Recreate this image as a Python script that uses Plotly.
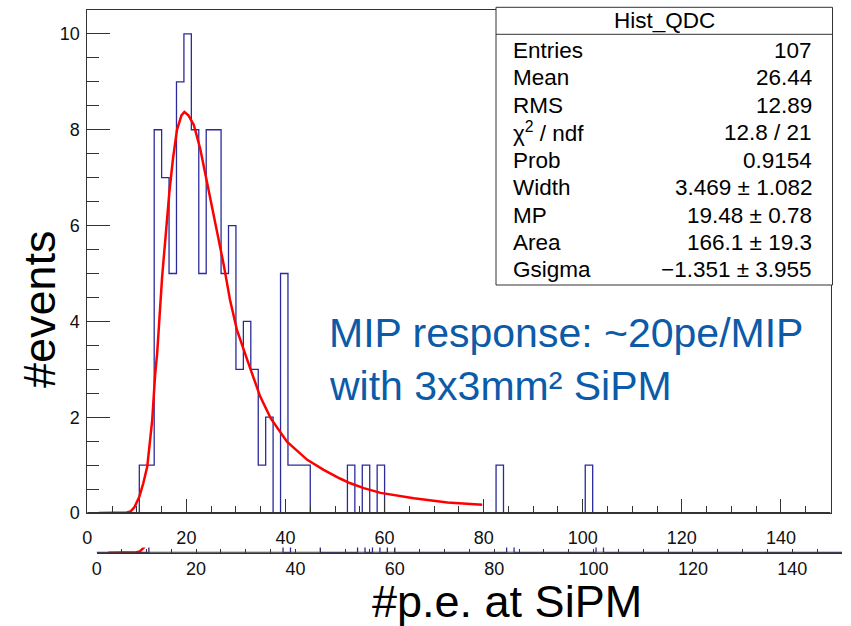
import numpy as np
import plotly.graph_objects as go

# ---------------- data ----------------
x_min, x_max, bin_width = 0.0, 150.0, 1.5
counts = [
    0, 0, 0, 0, 0, 0, 0, 1, 1, 8,
    7, 5, 9, 10, 8, 5, 8, 8, 5, 6,
    3, 4, 3, 1, 2, 0, 5, 1, 1, 1,
    0, 0, 0, 0, 0, 1, 0, 1, 0, 1,
    0, 0, 0, 0, 0, 0, 0, 0, 0, 0,
    0, 0, 0, 0, 0, 1, 0, 0, 0, 0,
    0, 0, 0, 0, 0, 0, 0, 1, 0, 0,
    0, 0, 0, 0, 0, 0, 0, 0, 0, 0,
    0, 0, 0, 0, 0, 0, 0, 0, 0, 0,
    0, 0, 0, 0, 0, 0, 0, 0, 0, 0,
]
fit_x = [2.3, 6.0, 8.0, 8.7, 9.5, 10.5, 11.3, 12.1, 13.1, 13.7, 14.1, 15.1, 15.8,
         16.6, 17.3, 18.1, 19.0, 19.6, 20.4, 21.5, 22.8, 24.2, 25.5, 26.9, 27.5,
         28.8, 30.2, 32.3, 34.9, 37.0, 40.3, 44.4, 47.7, 51.0, 53.1, 55.8, 59.2,
         65.9, 72.7, 79.7]
fit_y = [0.0, 0.0, 0.01, 0.03, 0.12, 0.34, 0.62, 0.97, 1.94, 2.9, 3.33, 4.93, 5.85,
         6.74, 7.4, 8.0, 8.3, 8.37, 8.3, 8.1, 7.6, 6.9, 6.26, 5.56, 5.2,
         4.45, 3.82, 3.19, 2.43, 1.98, 1.49, 1.11, 0.90, 0.72, 0.62, 0.52, 0.42,
         0.31, 0.22, 0.17]
x_ticks = [0, 20, 40, 60, 80, 100, 120, 140]
y_ticks = [0, 2, 4, 6, 8, 10]
stats_title = "Hist_QDC"
stat_names = ["Entries", "Mean", "RMS", "χ<sup>2</sup> / ndf", "Prob", "Width", "MP", "Area", "Gsigma"]
stat_values = ["107", "26.44", "12.89", "12.8 / 21", "0.9154", "3.469 ± 1.082",
               "19.48 ± 0.78", "166.1 ± 19.3", "−1.351 ± 3.955"]
note_lines = ["MIP response: ~20pe/MIP", "with 3x3mm² SiPM"]
x_title = "#p.e. at SiPM"
y_title = "#events"

# ---------------- figure ----------------
W, H = 851, 626
FONT = "Liberation Sans, Arial, Helvetica, sans-serif"
AX = "#333333"
HIST_C = "#2a2a9e"
RED = "#ff0000"


def px(x):
    return x / W


def py(y):
    return 1 - y / H


edges = np.arange(x_min, x_max + bin_width / 2, bin_width)
hx = list(edges[:-1]) + [edges[-1]]
hy = list(counts) + [counts[-1]]

fig = go.Figure()
for xa, ya in (("x", "y"), ("x2", "y2")):
    fig.add_trace(go.Scatter(x=hx, y=hy, mode="lines", line=dict(color=HIST_C, width=1.3, shape="hv"),
                             xaxis=xa, yaxis=ya, showlegend=False, hoverinfo="skip"))
    fig.add_trace(go.Scatter(x=fit_x, y=fit_y, mode="lines", line=dict(color=RED, width=2.5),
                             xaxis=xa, yaxis=ya, showlegend=False, hoverinfo="skip"))
    # axis baseline redrawn above the histogram's empty bins (as ROOT draws its axis last)
    fig.add_trace(go.Scatter(x=[x_min, x_max], y=[0, 0], mode="lines", line=dict(color=AX, width=2),
                             xaxis=xa, yaxis=ya, showlegend=False, hoverinfo="skip"))

tickfont = dict(family=FONT, size=18, color="#111111")

fig.update_layout(
    width=W, height=H, margin=dict(l=0, r=0, t=0, b=0, autoexpand=False),
    paper_bgcolor="white", plot_bgcolor="white",
    xaxis=dict(domain=[px(87.3), px(830.5)], range=[x_min, x_max], anchor="y",
               showgrid=False, zeroline=False, showline=True, linecolor=AX, linewidth=1, mirror=True,
               ticks="inside", tickmode="array", tickvals=x_ticks, ticklen=14, tickcolor=AX, tickwidth=1,
               minor=dict(dtick=5, tick0=0, ticklen=7, ticks="inside", tickcolor=AX, tickwidth=1),
               tickfont=tickfont, ticklabelstandoff=8),
    yaxis=dict(domain=[py(513), py(10)], range=[0, 10.5], anchor="x",
               showgrid=False, zeroline=False, showline=True, linecolor=AX, linewidth=1, mirror=True,
               ticks="inside", tickmode="array", tickvals=y_ticks, ticklen=23, tickcolor=AX, tickwidth=1,
               minor=dict(dtick=0.5, tick0=0, ticklen=12, ticks="inside", tickcolor=AX, tickwidth=1),
               tickfont=tickfont, ticklabelstandoff=3),
    xaxis2=dict(domain=[px(96.7), px(842)], range=[x_min, x_max], anchor="y2",
                showgrid=False, zeroline=False, showline=True, linecolor=AX, linewidth=1,
                ticks="inside", tickmode="array", tickvals=x_ticks, ticklen=4, tickcolor=AX, tickwidth=1,
                minor=dict(dtick=5, tick0=0, ticklen=4, ticks="inside", tickcolor=AX, tickwidth=1),
                tickfont=tickfont, ticklabelstandoff=0),
    yaxis2=dict(domain=[py(552.7), py(547.5)], range=[0, 0.12], anchor="x2",
                showgrid=False, zeroline=False, showline=False, showticklabels=False, ticks=""),
)

shapes = []
shapes.append(dict(type="rect", xref="paper", yref="paper", x0=px(496), x1=px(832.5), y0=py(285), y1=py(7.3),
                   fillcolor="white", line=dict(color=AX, width=1), layer="above"))
shapes.append(dict(type="line", xref="paper", yref="paper", x0=px(496), x1=px(832.5), y0=py(34.3), y1=py(34.3),
                   line=dict(color=AX, width=1), layer="above"))
fig.update_layout(shapes=shapes)

ann = []
sfont = dict(family=FONT, size=22.5, color="black")
ann.append(dict(x=px(664), y=py(20.7), xref="paper", yref="paper", text=stats_title, showarrow=False,
                xanchor="center", yanchor="middle", font=sfont))
for i, (n, v) in enumerate(zip(stat_names, stat_values)):
    yc = 50 + i * 27.5
    ann.append(dict(x=px(511), y=py(yc), xref="paper", yref="paper", text=n, showarrow=False,
                    xanchor="left", yanchor="middle", font=sfont))
    ann.append(dict(x=px(814), y=py(yc), xref="paper", yref="paper", text=v, showarrow=False,
                    xanchor="right", yanchor="middle", font=sfont))

nfont = dict(family=FONT, size=41, color="#0b5ba8")
for i, t in enumerate(note_lines):
    ann.append(dict(x=px(327), y=py(333 + i * 53.3), xref="paper", yref="paper", text=t, showarrow=False,
                    xanchor="left", yanchor="middle", font=nfont))

ann.append(dict(x=px(507), y=py(601), xref="paper", yref="paper", text=x_title, showarrow=False,
                xanchor="center", yanchor="middle", font=dict(family=FONT, size=45, color="black")))
ann.append(dict(x=px(40), y=py(309), xref="paper", yref="paper", text=y_title, showarrow=False, textangle=-90,
                xanchor="center", yanchor="middle", font=dict(family=FONT, size=45, color="black")))
fig.update_layout(annotations=ann)

fig.write_html("out.html", config={"displayModeBar": False})
with open("out.html", "r", encoding="utf-8") as f:
    html = f.read()
html = html.replace("<head>", "<head><style>html,body{margin:0;padding:0;overflow:hidden}</style>", 1)
with open("out.html", "w", encoding="utf-8") as f:
    f.write(html)
